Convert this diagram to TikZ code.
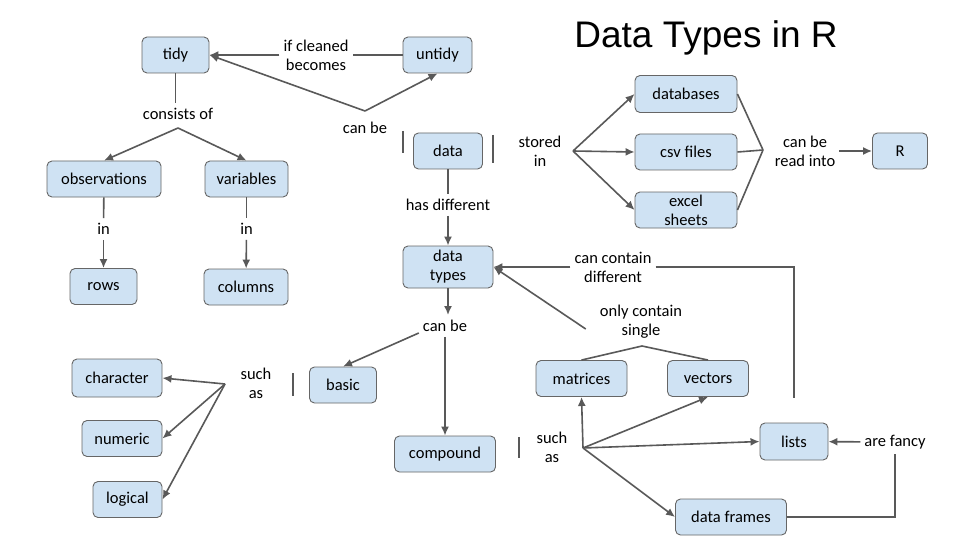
\documentclass[tikz,border=0pt]{standalone}
\usepackage{fontspec}
\setmainfont{Carlito}
\newfontfamily\titlefont{Liberation Sans}
\usetikzlibrary{arrows.meta,positioning,calc}
\definecolor{boxfill}{HTML}{CFE2F3}
\definecolor{boxline}{HTML}{666666}
\definecolor{linkgray}{HTML}{595959}
\newcommand{\conceptfont}{\fontsize{16.5}{19}\selectfont}
\tikzstyle{box}=[draw=boxline, fill=boxfill, rounded corners=5pt, line width=0.9pt,
                 minimum height=36pt, inner sep=2pt, align=center, font=\conceptfont]
\tikzstyle{lbl}=[align=center, inner xsep=4pt, inner ysep=5pt, font=\conceptfont]
\tikzstyle{link}=[draw=linkgray, line width=1.6pt]
\tikzstyle{arr}=[link, -{Latex[length=9pt,width=8pt]}]

\begin{document}
\begin{tikzpicture}[x=1pt,y=-1pt]
    \fill[white] (0,0) rectangle (960,540);
    \useasboundingbox (0,0) rectangle (960,540);
    \node (title) at (706,38) {\titlefont\fontsize{37}{42}\selectfont Data Types in R};

    \node[box, minimum width=67pt] (tidy) at (175.5,55) {tidy};
    \node[box, minimum width=69pt] (untidy) at (437.5,55) {untidy};
    \node[lbl] (cleaned) at (316,55) {if cleaned\\becomes};
    \node[lbl] (canbe) at (365,128) {can be};
    \coordinate (canbejoin) at (365,111);
    \node[box, minimum width=69pt] (data) at (448,151) {data};
    \node[lbl] (stored) at (540,151) {stored\\in};
    \coordinate (storedjoin) at (573,151);
    \node[box, minimum width=102pt, minimum height=37pt] (databases) at (686,94) {databases};
    \node[box, minimum width=102pt] (csv) at (686,152) {csv files};
    \node[box, minimum width=102pt, inner ysep=0pt] (excel) at (686,210) {excel\\sheets};
    \coordinate (readjoin) at (763,150);
    \node[lbl] (readinto) at (805,151) {can be\\read into};
    \node[box, minimum width=55pt] (R) at (900,151) {R};

    \node[lbl] (consists) at (178,114) {consists of};
    \coordinate (consistsjoin) at (178,128);
    \node[box, minimum width=114pt] (obs) at (104,179) {observations};
    \node[box, minimum width=83pt] (var) at (246.5,179) {variables};
    \node[lbl] (inrows) at (103.5,229) {in};
    \node[lbl] (incols) at (246.5,229) {in};
    \node[box, minimum width=67pt] (rows) at (103.5,286.5) {rows};
    \node[box, minimum width=84pt] (columns) at (246,287) {columns};

    \node[lbl] (hasdiff) at (448,205) {has different};
    \node[box, minimum width=90pt, minimum height=42pt] (types) at (448,267) {data\\types};
    \node[lbl] (canbetwo) at (445,326) {can be};
    \node[box, minimum width=67pt] (basic) at (343,385) {basic};
    \node[box, minimum width=101pt] (compound) at (445,454) {compound};
    \node[lbl] (suchas) at (256,383) {such\\as};
    \coordinate (suchasjoin) at (225,384);
    \node[box, minimum width=90pt, minimum height=38pt] (character) at (117,378) {character};
    \node[box, minimum width=80pt] (numeric) at (122,438.5) {numeric};
    \node[box, minimum width=69pt] (logical) at (127.5,499.5) {logical};

    \node[lbl] (suchastwo) at (552,447) {such\\as};
    \coordinate (suchastwojoin) at (583,448);
    \node[box, minimum width=91pt] (matrices) at (581.5,378.5) {matrices};
    \node[box, minimum width=81pt] (vectors) at (708,378.5) {vectors};
    \node[box, minimum width=68pt, minimum height=37pt] (lists) at (794,441.5) {lists};
    \node[box, minimum width=111pt] (frames) at (731,517) {data frames};
    \node[lbl] (contain) at (613,267) {can contain\\different};
    \node[lbl] (single) at (641,322) {only contain\\single};
    \coordinate (singlejoin) at (642,346);
    \node[lbl] (fancy) at (895,442) {are fancy};

    \draw[link] (untidy) -- (cleaned);
    \draw[arr] (cleaned) -- (tidy);
    \draw[arr] (canbejoin) -- (tidy.east);
    \draw[arr] (canbejoin) -- (untidy.south);
    \draw[link] ([xshift=-10pt,yshift=20pt]data.west) -- ([xshift=-10pt,yshift=-2pt]data.west);
    \draw[link] ([xshift=10pt,yshift=16pt]data.east) -- ([xshift=10pt,yshift=-12pt]data.east);
    \foreach \t in {databases,csv,excel} \draw[arr] (storedjoin) -- (\t.west);
    \foreach \t in {databases,csv,excel} \draw[link] (\t.east) -- (readjoin);
    \draw[arr] (readinto) -- (R);

    \draw[link] (tidy.south) -- (tidy.south |- consists.north);
    \draw[arr] (consistsjoin) -- (obs.north);
    \draw[arr] (consistsjoin) -- (var.north);
    \draw[link] (obs) -- (inrows);
    \draw[arr] (inrows) -- (rows);
    \draw[link] (var) -- (incols);
    \draw[arr] (incols) -- (columns);

    \draw[link] (data) -- (hasdiff);
    \draw[arr] (hasdiff) -- (types);
    \draw[arr] (types.south) -- (types.south |- canbetwo.north);
    \draw[arr] ([yshift=-7pt]canbetwo.west) -- (basic.north);
    \draw[arr] (canbetwo) -- (compound);
    \draw[link] ([xshift=-16pt,yshift=12pt]basic.west) -- ([xshift=-16pt,yshift=-11pt]basic.west);
    \foreach \t in {character,numeric,logical} \draw[arr] (suchasjoin) -- (\t.east);

    \draw[link] ([xshift=23pt,yshift=17pt]compound.east) -- ([xshift=23pt,yshift=-4pt]compound.east);
    \foreach \t in {matrices,vectors} \draw[arr] (suchastwojoin) -- (\t.south);
    \draw[arr] (suchastwojoin) -- (lists.west);
    \draw[arr] (suchastwojoin) -- (frames.west);
    \draw[arr] (contain) -- (types.east);
    \draw[link] (contain) -| ([yshift=25pt]lists.north);
    \draw[arr] ([xshift=-10pt,yshift=-7pt]single.west) -- (types.east);
    \draw[link] (matrices.north) -- (singlejoin) -- (vectors.north);
    \draw[arr] (fancy) -- (lists);
    \draw[link] (fancy) |- (frames);
\end{tikzpicture}
\end{document}
